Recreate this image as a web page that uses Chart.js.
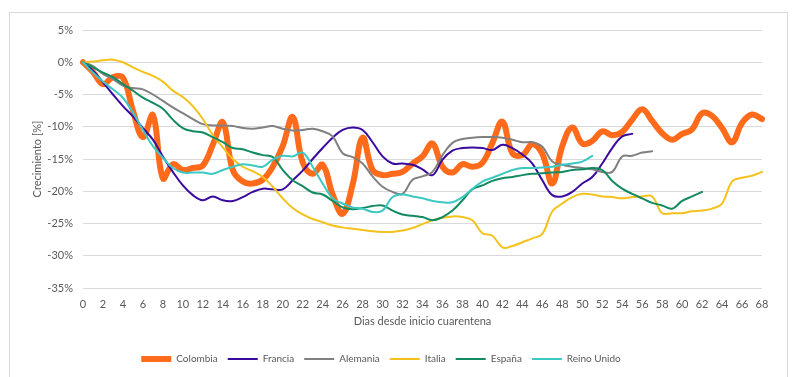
<!DOCTYPE html>
<html>
<head>
<meta charset="utf-8">
<script src="https://cdn.jsdelivr.net/npm/chart.js@4.4.1/dist/chart.umd.min.js"></script>
<style>
  html, body { margin: 0; padding: 0; background: #fff; }
  #wrap { position: relative; width: 798px; height: 377px; overflow: hidden; }
  #frame { position: absolute; left: 9px; top: 12px; width: 777px; height: 380px; border: 1px solid #d9d9d9; }
  #chart { position: absolute; left: 0; top: 0; }
</style>
</head>
<body>
<div id="wrap">
  <div id="frame"></div>
  <canvas id="chart" width="798" height="377"></canvas>
</div>
<script>
// Crecimiento desde el inicio de la cuarentena, por país (%)

const days = [0,1,2,3,4,5,6,7,8,9,10,11,12,13,14,15,16,17,18,19,20,21,22,23,24,25,26,27,28,29,30,31,32,33,34,
  35,36,37,38,39,40,41,42,43,44,45,46,47,48,49,50,51,52,53,54,55,56,57,58,59,60,61,62,63,64,65,66,67,68];

const colombia = [0,-1.5,-3.4,-2.3,-2.4,-7.5,-11.6,-8.2,-18,-15.8,
  -16.7,-16.4,-16,-12.8,-9.3,-16.7,-18.5,-18.8,-18.2,-16.2,
  -13,-8.5,-15.5,-17.3,-15.9,-20.5,-23.5,-19,-11.7,-16.7,
  -17.5,-17.3,-17,-15.7,-14.6,-12.6,-16.2,-17.1,-15.8,-16.2,
  -15.6,-12.5,-9.2,-14.1,-14.4,-12.7,-14.2,-18.8,-13,-10.1,
  -12.6,-12.2,-10.7,-11.3,-10.8,-8.9,-7.3,-9.1,-11,-12,
  -11.1,-10.4,-7.9,-8.3,-10.2,-12.4,-9.4,-8.1,-8.8];

const francia = [0,-1.3,-3.1,-5,-6.8,-8.4,-10.2,-12,-14.6,-17,
  -19.1,-20.6,-21.4,-20.8,-21.4,-21.5,-20.9,-20.1,-19.6,-19.7,
  -19.7,-18.3,-16.8,-15,-13.3,-11.7,-10.5,-10.1,-10.5,-12.4,
  -14.6,-15.7,-15.7,-15.9,-16.6,-17.5,-15.1,-13.7,-13.3,-13.2,
  -13.3,-13.6,-12.8,-13.3,-14.3,-15.7,-18.3,-20.6,-20.8,-20.1,
  -18.8,-17.8,-15.7,-13.3,-11.5,-11.1];

const alemania = [0,-0.6,-1.8,-2.6,-3.6,-4,-4.2,-5,-6,-7,
  -7.9,-8.8,-9.6,-9.8,-9.8,-9.9,-10.2,-10.3,-10.1,-9.9,
  -10.3,-10.6,-10.5,-10.3,-10.7,-11.5,-14.1,-14.7,-15.7,-17.7,
  -19.3,-20.1,-20.4,-18.2,-17.7,-17,-14.4,-12.5,-11.9,-11.7,
  -11.6,-11.6,-11.7,-12,-12.4,-12.4,-13.1,-15.4,-15.9,-16.2,
  -16.4,-16.6,-17,-17,-14.6,-14.5,-14,-13.8];

const italia = [0,0.1,0.3,0.4,0,-0.8,-1.5,-2.1,-3,-4.4,
  -5.4,-6.8,-8.8,-11.3,-13.2,-15,-16.2,-16.9,-17.8,-19.3,
  -21.1,-22.6,-23.6,-24.3,-24.8,-25.3,-25.6,-25.8,-26,-26.2,
  -26.3,-26.3,-26.1,-25.7,-25.1,-24.5,-24.1,-23.9,-24,-24.5,
  -26.5,-26.9,-28.7,-28.5,-27.9,-27.3,-26.6,-23.1,-21.9,-20.9,
  -20.4,-20.5,-20.8,-20.9,-21.1,-20.9,-20.8,-20.8,-23.4,-23.4,
  -23.4,-23.1,-23,-22.7,-21.9,-18.5,-17.9,-17.6,-17];

const espana = [0,-0.8,-1.6,-2.3,-3.4,-4.4,-5.5,-6.3,-7.2,-8.9,
  -10.2,-10.7,-10.9,-11.6,-12.4,-13.3,-13.5,-14,-14.4,-14.7,
  -16.7,-18.3,-19.2,-20.2,-20.5,-21.5,-22.5,-22.8,-22.6,-22.3,
  -22.2,-23,-23.6,-23.8,-24,-24.5,-24,-23,-21.4,-19.7,
  -19.1,-18.4,-18,-17.8,-17.5,-17.3,-17.2,-17.1,-17,-16.7,
  -16.6,-16.4,-16.7,-18.4,-19.6,-20.4,-21.1,-21.8,-22.2,-22.7,
  -21.5,-20.8,-20.1];

const reinoUnido = [0,-1.6,-3,-4.2,-5.5,-7.8,-10.5,-13,-14.8,-16.4,
  -17.1,-17.1,-17.1,-17.3,-16.7,-16.2,-15.8,-16,-16.2,-15.1,
  -14.5,-14.6,-14,-16.2,-18.8,-21.1,-21.9,-22.5,-22.7,-23.2,
  -23,-20.9,-20.5,-20.8,-21.1,-21.5,-21.7,-21.7,-20.9,-19.6,
  -18.5,-17.9,-17.3,-16.7,-16.4,-16.4,-16.3,-16.2,-15.9,-15.7,
  -15.4,-14.5];

const yTicks = [5,0,-5,-10,-15,-20,-25,-30,-35];

const TEXT = '#595959';
const FONT = 'Lato, "Open Sans", sans-serif';

// serie -> estilo (Colombia gruesa, el resto fino)
function serie(label, data, color, width, order){
  return {
    label, data,
    borderColor: color,
    backgroundColor: color,
    borderWidth: width,
    borderCapStyle: 'round',
    borderJoinStyle: 'round',
    tension: 0.4,
    pointRadius: 0,
    fill: false,
    order
  };
}

const ctx = document.getElementById('chart').getContext('2d');
new Chart(ctx, {
  type: 'line',
  data: {
    labels: days,
    datasets: [
      serie('Colombia', colombia, '#FF6B1A', 6, 6),
      serie('Francia', francia, '#3A0A9E', 2, 5),
      serie('Alemania', alemania, '#808080', 2, 4),
      serie('Italia', italia, '#F5C21B', 2, 3),
      serie('España', espana, '#138B60', 2, 2),
      serie('Reino Unido', reinoUnido, '#3CC8C3', 2, 1)
    ]
  },
  options: {
    responsive: false,
    animation: false,
    layout: { padding: { left: 0, right: 36, top: 30, bottom: 3 } },
    plugins: {
      tooltip: { enabled: false },
      legend: {
        position: 'bottom',
        labels: {
          usePointStyle: true,
          pointStyle: 'line',
          pointStyleWidth: 30,
          padding: 10,
          color: TEXT,
          font: { family: FONT, size: 10 },
          sort: (a, b) => a.datasetIndex - b.datasetIndex
        }
      }
    },
    scales: {
      x: {
        type: 'category',
        offset: false,
        grid: { display: false },
        border: { display: false },
        ticks: {
          color: TEXT,
          font: { family: FONT, size: 11 },
          maxRotation: 0,
          autoSkip: false,
          padding: 2,
          callback: function(v, i){ return days[i] % 2 === 0 ? String(days[i]) : null; }
        },
        title: {
          display: true,
          text: 'Dias desde inicio cuarentena',
          color: TEXT,
          font: { family: FONT, size: 11 },
          padding: { top: 4, bottom: 16 }
        },
        afterFit: s => { s.height = 56; }
      },
      y: {
        min: -35,
        max: 5,
        afterBuildTicks: s => { s.ticks = yTicks.map(v => ({ value: v })); },
        grid: { color: '#d9d9d9', drawTicks: false },
        border: { display: false },
        ticks: {
          color: TEXT,
          font: { family: FONT, size: 11 },
          padding: 10,
          callback: v => v + '%'
        },
        title: {
          display: true,
          text: 'Crecimiento [%]',
          color: TEXT,
          font: { family: FONT, size: 11 },
          padding: { top: 31, bottom: 0 }
        },
        afterFit: s => { s.width = 83; }
      }
    }
  }
});
</script>
</body>
</html>
